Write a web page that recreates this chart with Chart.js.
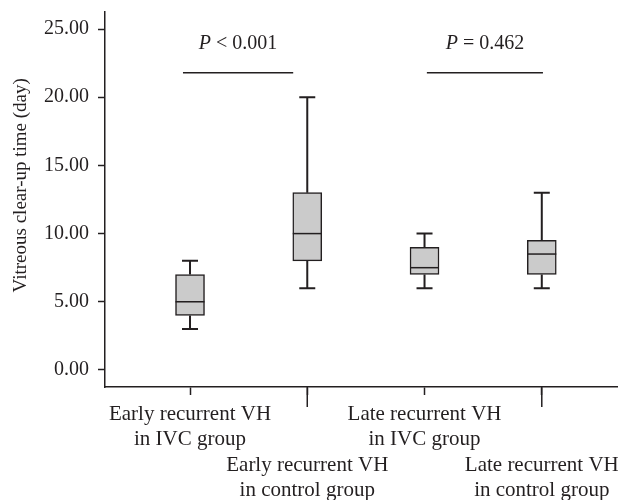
<!DOCTYPE html>
<html>
<head>
<meta charset="utf-8">
<script src="https://cdn.jsdelivr.net/npm/chart.js@4.4.1/dist/chart.umd.min.js"></script>
<style>
  html, body { margin: 0; padding: 0; background: #fff; }
  #wrap { width: 618px; height: 500px; }
</style>
</head>
<body>
<div id="wrap"><canvas id="boxChart"></canvas></div>
<script>
// groups and box-plot values
const groupLabels = [
    ['Early recurrent VH', 'in IVC group'],
    ['Early recurrent VH', 'in control group'],
    ['Late recurrent VH', 'in IVC group'],
    ['Late recurrent VH', 'in control group']
];
const positions = [1, 2, 3, 4];
const whiskerLow = [3, 6, 6, 6];
const q1 = [4, 8, 7, 7];
const medians = [5, 10, 7.5, 8.5];
const q3 = [7, 13, 9, 9.5];
const whiskerHigh = [8, 20, 10, 13];
const yTicks = [0, 5, 10, 15, 20, 25];

// comparison bars (x in group units, y in days)
const pTexts = [['P', ' < 0.001'], ['P', ' = 0.462']];
const pFrom = [0.94, 3.02];
const pTo = [1.88, 4.01];
const pLineY = 21.8;
const pTextY = 23.9;

const ink = '#231f20';
const serif = "'Liberation Serif', 'Times New Roman', serif";

const boxExtras = {
    id: 'boxExtras',
    afterDatasetsDraw(chart) {
        const ctx = chart.ctx;
        const x = chart.scales.x;
        const y = chart.scales.y;
        const area = chart.chartArea;
        ctx.save();
        ctx.strokeStyle = ink;
        ctx.lineCap = 'butt';

        positions.forEach((p, i) => {
            const px = x.getPixelForValue(p);
            // median
            ctx.lineWidth = 1.5;
            ctx.beginPath();
            ctx.moveTo(px - 14.5, y.getPixelForValue(medians[i]));
            ctx.lineTo(px + 14.5, y.getPixelForValue(medians[i]));
            ctx.stroke();
            // whiskers
            ctx.lineWidth = 2;
            ctx.beginPath();
            ctx.moveTo(px, y.getPixelForValue(q3[i]));
            ctx.lineTo(px, y.getPixelForValue(whiskerHigh[i]));
            ctx.moveTo(px - 8, y.getPixelForValue(whiskerHigh[i]));
            ctx.lineTo(px + 8, y.getPixelForValue(whiskerHigh[i]));
            ctx.moveTo(px, y.getPixelForValue(q1[i]));
            ctx.lineTo(px, y.getPixelForValue(whiskerLow[i]));
            ctx.moveTo(px - 8, y.getPixelForValue(whiskerLow[i]));
            ctx.lineTo(px + 8, y.getPixelForValue(whiskerLow[i]));
            ctx.stroke();
            // longer tick for the lower label row
            if (i % 2 === 1) {
                ctx.lineWidth = 1.5;
                ctx.beginPath();
                ctx.moveTo(px, area.bottom);
                ctx.lineTo(px, area.bottom + 20);
                ctx.stroke();
            }
        });

        // P value annotations
        ctx.fillStyle = ink;
        ctx.textBaseline = 'middle';
        pTexts.forEach((t, i) => {
            const x1 = x.getPixelForValue(pFrom[i]);
            const x2 = x.getPixelForValue(pTo[i]);
            ctx.lineWidth = 1.5;
            ctx.beginPath();
            ctx.moveTo(x1, y.getPixelForValue(pLineY));
            ctx.lineTo(x2, y.getPixelForValue(pLineY));
            ctx.stroke();

            const ty = y.getPixelForValue(pTextY);
            ctx.font = 'italic 20px ' + serif;
            const w1 = ctx.measureText(t[0]).width;
            ctx.font = '20px ' + serif;
            const w2 = ctx.measureText(t[1]).width;
            let sx = (x1 + x2) / 2 - (w1 + w2) / 2;
            ctx.textAlign = 'left';
            ctx.font = 'italic 20px ' + serif;
            ctx.fillText(t[0], sx, ty);
            ctx.font = '20px ' + serif;
            ctx.fillText(t[1], sx + w1, ty);
        });
        ctx.restore();
    }
};

function desenhar() {
    const ctx = document.getElementById('boxChart');
    new Chart(ctx, {
        type: 'bar',
        data: {
            datasets: [{
                data: positions.map((p, i) => ({ x: p, y: [q1[i], q3[i]] })),
                backgroundColor: '#cbcbcb',
                borderColor: ink,
                borderWidth: 1.5,
                borderSkipped: false,
                barThickness: 29
            }]
        },
        options: {
            responsive: true,
            maintainAspectRatio: false,
            animation: false,
            layout: { padding: { top: 12, left: 0, right: 0, bottom: 0 } },
            plugins: { legend: { display: false }, tooltip: { enabled: false } },
            scales: {
                x: {
                    type: 'linear',
                    offset: false,
                    min: 0.275,
                    max: 4.65,
                    afterBuildTicks: s => { s.ticks = positions.map(v => ({ value: v })); },
                    afterFit: s => { s.height = 113; s.paddingLeft = 0; s.paddingRight = 0; },
                    ticks: {
                        autoSkip: false,
                        maxRotation: 0,
                        padding: 7,
                        color: ink,
                        font: { family: serif, size: 21, lineHeight: 1.2 },
                        callback: (v, i) => i % 2 === 1 ? ['', ''].concat(groupLabels[i]) : groupLabels[i]
                    },
                    grid: { offset: false, drawOnChartArea: false, tickLength: 8, tickColor: ink, tickWidth: 1.5 },
                    border: { color: ink, width: 1.5 }
                },
                y: {
                    min: -1.25,
                    max: 26.25,
                    afterBuildTicks: s => { s.ticks = yTicks.map(v => ({ value: v })); },
                    afterFit: s => { s.width = 105; s.paddingTop = 0; s.paddingBottom = 0; },
                    ticks: {
                        padding: 9,
                        color: ink,
                        font: { family: serif, size: 20 },
                        callback: v => v.toFixed(2)
                    },
                    grid: { drawOnChartArea: false, tickLength: 7, tickColor: ink, tickWidth: 1.5 },
                    border: { color: ink, width: 1.5 },
                    title: {
                        display: true,
                        text: '      Vitreous clear-up time (day)',
                        color: ink,
                        font: { family: serif, size: 19, lineHeight: 1.2 },
                        padding: { top: 10, bottom: 0 }
                    }
                }
            }
        },
        plugins: [boxExtras]
    });
}

document.addEventListener('DOMContentLoaded', desenhar);
</script>
</body>
</html>
